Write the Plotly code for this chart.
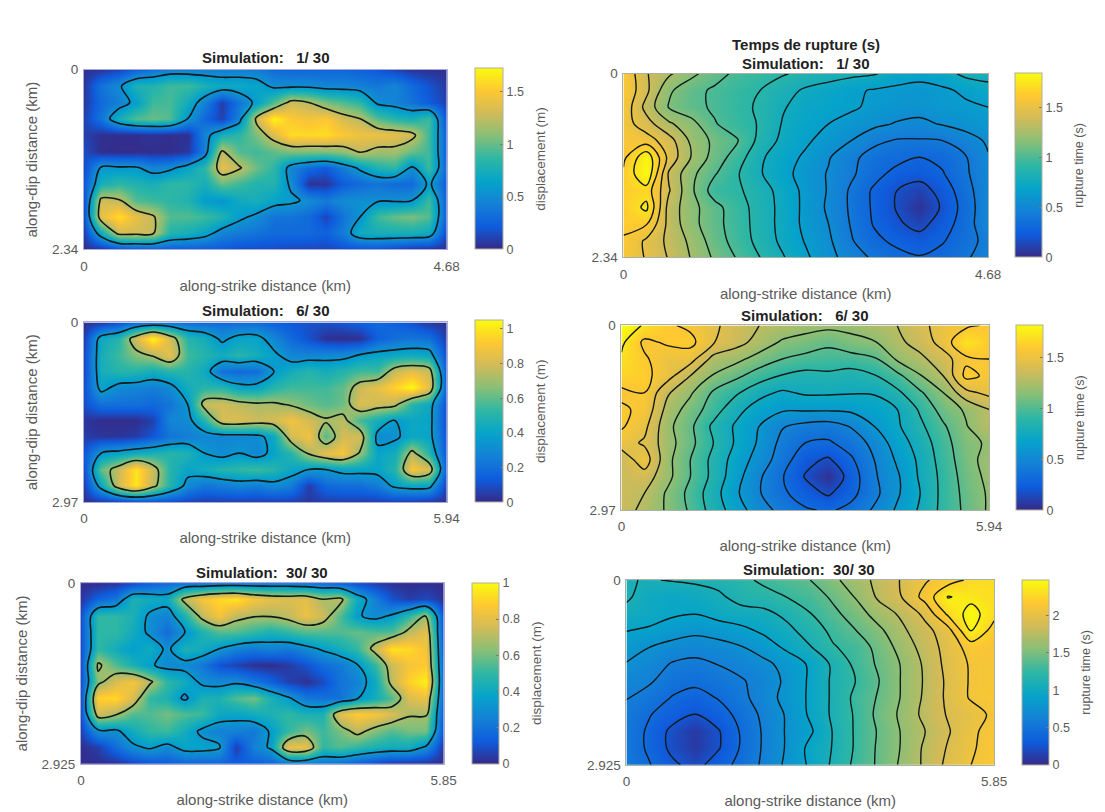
import numpy as np
import plotly.graph_objects as go

# ---------- values ----------
disp_sim1 = [
 [.03,.05,.12,.25,.35,.42,.42,.42,.42,.42,.4,.3,.28,.28,.28,.28,.25,.2,.12,.05,.03,.03],
 [.05,.35,.5,.78,.8,.9,.9,.78,.7,.7,.66,.5,.5,.5,.45,.45,.42,.38,.45,.3,.18,.06],
 [.06,.3,.42,.62,.9,.92,.72,.42,.08,.35,.62,.95,1.3,1.22,1.05,.95,.85,.5,.45,.35,.22,.1],
 [.1,.35,.75,.95,1.0,.95,.55,.28,.1,.45,1.3,1.7,1.5,1.45,1.5,1.32,1.22,.95,.82,.75,.9,.15],
 [.1,.03,.02,.02,.04,.02,.03,.45,.75,.85,1.05,1.35,1.6,1.58,1.6,1.5,1.42,1.42,1.38,1.3,.9,.2],
 [.15,.02,.01,.01,.02,.01,.06,.42,1.25,.95,.9,.98,1.05,1.05,1.05,1.1,1.25,1.15,1.15,1.0,.9,.2],
 [.15,.58,.58,.58,.45,.5,.65,.85,1.38,1.25,1.0,.85,.45,.3,.22,.4,.6,.8,.85,.5,.9,.25],
 [.2,.75,.85,.8,.75,.85,.85,.75,1.0,.9,.8,.8,.5,.04,.05,.22,.3,.35,.3,.3,.6,.2],
 [.15,1.3,1.25,.95,.9,.85,.8,.6,.55,.7,.75,.65,.6,.5,.4,.5,.52,.52,.52,.55,.9,.2],
 [.15,1.4,1.6,1.4,1.25,.95,.95,.9,.8,.6,.5,.35,.35,.3,.12,.35,.55,.9,1.0,1.05,.95,.2],
 [.08,.7,1.3,1.3,1.25,.82,.75,.65,.45,.4,.35,.3,.3,.3,.25,.4,.72,.75,.75,.75,.7,.12],
 [.02,.03,.1,.15,.18,.2,.2,.2,.2,.15,.15,.15,.12,.12,.12,.15,.15,.15,.1,.03,.02,.02],
]
disp_sim6 = [
 [.02,.03,.1,.17,.2,.2,.2,.18,.18,.18,.18,.15,.12,.1,.1,.12,.15,.18,.15,.1,.04,.02],
 [.05,.42,.5,.8,1.05,.8,.5,.45,.32,.4,.4,.28,.18,.1,.02,.01,.02,.15,.2,.22,.2,.05],
 [.08,.45,.55,.65,.72,.85,.55,.5,.45,.5,.45,.38,.28,.28,.3,.3,.36,.4,.42,.44,.42,.08],
 [.08,.45,.5,.5,.45,.5,.5,.42,.2,.18,.2,.35,.45,.5,.45,.5,.55,.55,.78,.85,.78,.1],
 [.1,.4,.3,.28,.25,.3,.45,.5,.5,.4,.4,.5,.55,.55,.55,.6,.78,.85,.95,1.05,.85,.1],
 [.1,.2,.2,.2,.18,.22,.35,.78,.8,.75,.72,.72,.68,.62,.58,.62,.82,.78,.75,.5,.42,.08],
 [.03,.01,.01,.01,.06,.28,.3,.5,.8,.82,.78,.8,.88,.8,.72,.75,.55,.45,.35,.42,.4,.08],
 [.05,.03,.03,.05,.12,.22,.25,.28,.28,.28,.3,.42,.8,.88,.58,.8,.8,.3,.32,.42,.4,.1],
 [.12,.35,.4,.45,.48,.5,.48,.35,.3,.35,.28,.4,.5,.72,.85,.9,.68,.4,.45,.75,.5,.1],
 [.1,.6,.78,1.0,.78,.5,.4,.45,.5,.52,.55,.5,.42,.35,.35,.4,.4,.4,.5,.9,.82,.1],
 [.05,.42,.8,1.0,.75,.5,.3,.22,.25,.28,.25,.3,.25,.05,.18,.2,.2,.25,.38,.42,.4,.05],
 [.02,.02,.03,.06,.08,.08,.06,.05,.05,.05,.05,.05,.05,.04,.05,.05,.05,.05,.05,.04,.02,.02],
]
disp_sim30 = [
 [.01,.01,.03,.08,.14,.18,.2,.2,.22,.22,.22,.22,.22,.2,.18,.15,.1,.05,.02,.01,.01,.01],
 [.03,.15,.22,.45,.42,.4,.72,.85,.92,.95,.85,.8,.78,.8,.68,.72,.42,.25,.1,.05,.08,.02],
 [.1,.5,.5,.45,.3,.25,.45,.72,.85,.72,.68,.68,.72,.82,.75,.55,.35,.28,.35,.5,.68,.08],
 [.1,.5,.5,.42,.3,.18,.32,.45,.55,.55,.5,.45,.5,.55,.55,.55,.58,.55,.55,.72,.8,.08],
 [.1,.5,.42,.35,.42,.3,.45,.42,.33,.25,.22,.25,.22,.28,.35,.42,.5,.72,.95,.92,.85,.1],
 [.1,.7,.55,.45,.35,.28,.28,.22,.1,.06,.02,.01,.04,.1,.18,.22,.32,.5,.75,.85,.88,.12],
 [.1,.62,.78,.85,.7,.5,.42,.3,.28,.3,.22,.15,.06,.02,.08,.2,.25,.4,.72,.9,.98,.12],
 [.1,.9,.92,.78,.5,.45,.3,.45,.45,.55,.6,.45,.35,.22,.2,.2,.32,.42,.55,.78,.82,.12],
 [.1,.75,.68,.55,.55,.6,.55,.52,.4,.38,.42,.45,.5,.45,.45,.8,.88,.85,.78,.68,.68,.1],
 [.06,.3,.3,.42,.5,.52,.42,.3,.25,.25,.22,.35,.5,.6,.52,.6,.72,.62,.55,.6,.6,.08],
 [.01,.05,.18,.3,.35,.28,.38,.38,.35,.05,.25,.35,.82,.82,.5,.55,.5,.45,.42,.42,.3,.02],
 [.01,.01,.02,.06,.1,.12,.15,.15,.15,.14,.14,.15,.18,.2,.2,.18,.12,.06,.02,.01,.01,.01],
]
rupt_sim1 = [
 [1.6,1.38,1.27,1.16,1.06,.98,.94,.9,.86,.83,.8,.78,.72,.7,.72,.8,.82],
 [1.6,1.4,1.15,1.05,.99,.94,.89,.82,.75,.71,.67,.64,.62,.6,.63,.67,.72],
 [1.58,1.33,1.12,1.05,.99,.93,.87,.78,.72,.69,.67,.62,.59,.58,.62,.63,.65],
 [1.55,1.42,1.27,1.17,1.02,.94,.88,.76,.7,.65,.6,.56,.52,.5,.54,.58,.62],
 [1.58,1.55,1.42,1.22,1.1,1.02,.85,.74,.67,.6,.53,.44,.4,.4,.41,.47,.55],
 [1.58,1.82,1.45,1.24,1.08,.95,.79,.7,.63,.54,.44,.36,.33,.29,.32,.4,.52],
 [1.63,1.84,1.35,1.16,1.02,.9,.78,.69,.6,.52,.43,.33,.25,.22,.28,.39,.5],
 [1.63,1.68,1.38,1.15,.95,.91,.83,.72,.62,.52,.39,.27,.17,.11,.22,.36,.5],
 [1.63,1.76,1.32,1.17,1.05,.94,.84,.73,.62,.51,.39,.27,.16,.04,.19,.34,.5],
 [1.63,1.62,1.33,1.17,1.05,.95,.84,.73,.62,.53,.4,.28,.19,.13,.23,.35,.5],
 [1.6,1.47,1.34,1.22,1.07,.96,.85,.74,.64,.55,.42,.32,.26,.22,.28,.36,.45],
 [1.58,1.48,1.36,1.24,1.11,1.0,.89,.78,.67,.57,.47,.39,.33,.3,.33,.39,.48],
]
rupt_sim6 = [
 [1.85,1.7,1.6,1.55,1.47,1.37,1.3,1.26,1.22,1.2,1.2,1.25,1.3,1.4,1.5,1.55,1.6],
 [1.75,1.55,1.6,1.62,1.45,1.35,1.25,1.14,1.1,1.05,1.12,1.15,1.27,1.35,1.5,1.72,1.6],
 [1.7,1.6,1.5,1.5,1.25,1.2,1.1,1.02,.98,.96,.96,1.0,1.18,1.27,1.37,1.55,1.58],
 [1.65,1.62,1.5,1.3,1.15,1.05,.95,.87,.83,.85,.82,.87,.98,1.15,1.3,1.62,1.55],
 [1.55,1.58,1.32,1.18,1.0,.9,.78,.72,.76,.76,.75,.75,.85,1.0,1.16,1.4,1.48],
 [1.6,1.55,1.25,1.1,.95,.78,.68,.62,.62,.62,.63,.68,.74,.9,1.08,1.18,1.3],
 [1.6,1.48,1.2,1.05,.85,.72,.6,.47,.42,.4,.47,.6,.72,.85,1.0,1.15,1.3],
 [1.5,1.42,1.22,1.06,.88,.72,.58,.42,.32,.3,.38,.5,.67,.8,.96,1.12,1.18],
 [1.35,1.52,1.2,1.02,.84,.68,.54,.39,.22,.16,.3,.46,.62,.77,.94,1.1,1.22],
 [1.35,1.38,1.2,1.02,.84,.65,.48,.33,.17,.03,.25,.44,.58,.76,.92,1.08,1.2],
 [1.35,1.3,1.14,.98,.8,.62,.47,.35,.24,.16,.28,.42,.58,.74,.92,1.06,1.18],
 [1.35,1.27,1.14,1.0,.82,.67,.52,.42,.34,.3,.36,.48,.62,.76,.92,1.05,1.18],
]
rupt_sim30 = [
 [1.1,1.08,1.1,1.12,1.14,1.2,1.3,1.36,1.42,1.55,1.67,1.8,1.93,2.06,2.17,2.28,2.3],
 [1.12,1.0,.97,1.0,1.06,1.15,1.18,1.26,1.33,1.45,1.6,1.78,1.92,2.14,2.42,2.36,2.3],
 [1.03,1.0,.95,.93,.99,1.03,1.05,1.13,1.25,1.38,1.5,1.67,1.78,1.96,2.28,2.48,2.3],
 [.93,.9,.84,.8,.83,.88,.96,1.05,1.16,1.3,1.42,1.55,1.72,1.86,2.02,2.43,2.17],
 [.84,.76,.7,.67,.7,.75,.84,.96,1.08,1.24,1.32,1.48,1.65,1.82,1.98,2.15,2.12],
 [.75,.68,.58,.55,.6,.65,.72,.82,.95,1.12,1.3,1.45,1.6,1.78,1.97,2.1,2.12],
 [.67,.62,.5,.47,.52,.58,.66,.8,.95,1.12,1.26,1.42,1.6,1.77,1.95,2.1,2.12],
 [.6,.52,.42,.37,.44,.55,.68,.82,.95,1.12,1.3,1.44,1.6,1.78,1.95,2.1,2.14],
 [.56,.44,.34,.26,.36,.48,.64,.78,.95,1.12,1.28,1.47,1.62,1.8,1.93,2.0,2.12],
 [.54,.4,.22,.1,.25,.45,.62,.78,.9,1.1,1.28,1.44,1.6,1.75,1.9,2.05,2.14],
 [.54,.4,.22,.1,.25,.45,.62,.78,.97,1.1,1.28,1.45,1.6,1.78,1.93,2.06,2.15],
 [.56,.44,.3,.2,.36,.48,.63,.8,.95,1.12,1.3,1.45,1.62,1.78,1.96,2.08,2.15],
]
strike_lengths = [4.68, 5.94, 5.85]
dip_lengths = [2.34, 2.97, 2.925]
sim_labels = ["1/ 30", "6/ 30", "30/ 30"]
disp_zmax = [1.72, 1.05, 1.0]
rupt_zmax = [1.84, 1.82, 2.48]
disp_ticks = [[0, .5, 1, 1.5], [0, .2, .4, .6, .8, 1], [0, .2, .4, .6, .8, 1]]
rupt_ticks = [[0, .5, 1, 1.5], [0, .5, 1, 1.5], [0, .5, 1, 1.5, 2]]
disp_levels = [(.55, 1.22), (.35, .7), (.33, .67)]
rupt_levels = [(.17, 1.73, .12), (.18, 1.72, .14), (.265, 2.41, .165)]

# ---------- layout helpers ----------
W, H = 1105, 812
PARULA = ["#352a87", "#0f5cdd", "#1481d6", "#06a4ca", "#2eb7a4", "#87bf77", "#d1bb59", "#fec832", "#f9fb0e"]
FONT = "Liberation Sans, Arial, sans-serif"
GREY = "#5a5a5a"
# the colorbars push the margins a little; the paper area is smaller than the page
PAD_L, PAPER_W, PAD_T, PAPER_H = 4.0, 1088.0, 6.2, 798.0

def px(x): return (x - PAD_L) / PAPER_W
def py(y): return 1 - (y - PAD_T) / PAPER_H

panels = [
 dict(z=disp_sim1, box=(84, 447, 69, 249), cb=(475, 503, 68, 249), row=0, kind="d", ttl=(266, 57), ylab=True),
 dict(z=disp_sim6, box=(84, 447, 322, 502), cb=(475, 503, 320, 502), row=1, kind="d", ttl=(266, 310), ylab=True),
 dict(z=disp_sim30, box=(81, 444, 583, 764), cb=(472, 499, 583, 764), row=2, kind="d", ttl=(262, 572), ylab=True),
 dict(z=rupt_sim1, box=(624, 989, 73, 257), cb=(1016, 1043, 73, 257), row=0, kind="r", ttl=(807, 63), ylab=False),
 dict(z=rupt_sim6, box=(622, 990, 325, 510), cb=(1017, 1044, 325, 510), row=1, kind="r", ttl=(806, 315), ylab=False),
 dict(z=rupt_sim30, box=(627, 995, 580, 765), cb=(1023, 1050, 580, 765), row=2, kind="r", ttl=(810, 569), ylab=False),
]

fig = go.Figure()
annotations = []
for i, p in enumerate(panels, start=1):
    r = p["row"]
    L, D = strike_lengths[r], dip_lengths[r]
    z = np.array(p["z"], dtype=float)
    xs = np.linspace(0, L, z.shape[1])
    ys = np.linspace(0, D, z.shape[0])
    x0, x1, y0, y1 = p["box"]
    c0, c1, c_top, c_bot = p["cb"]
    axs = "" if i == 1 else str(i)
    is_d = p["kind"] == "d"
    zmax = disp_zmax[r] if is_d else rupt_zmax[r]
    ticks = disp_ticks[r] if is_d else rupt_ticks[r]
    fig.add_trace(go.Heatmap(
        x=xs, y=ys, z=z, zmin=0, zmax=zmax, zsmooth="best", colorscale=PARULA,
        xaxis="x" + axs, yaxis="y" + axs,
        colorbar=dict(
            x=px(c0), xanchor="left", xpad=0, y=py(c_bot), yanchor="bottom", ypad=0,
            len=(c_bot - c_top) / PAPER_H, lenmode="fraction", thickness=c1 - c0, thicknessmode="pixels",
            tickvals=ticks, ticktext=[f"{t:g}\u00a0\u00a0" for t in ticks], ticks="inside", ticklen=3,
            tickcolor="#777", outlinecolor="#b0b0a0", outlinewidth=1,
            tickfont=dict(family=FONT, size=12.5, color=GREY),
            title=dict(text="displacement (m)" if is_d else "rupture time (s)", side="right",
                       font=dict(family=FONT, size=13.5 if is_d else 12.5, color=GREY)),
        ),
    ))
    if is_d:
        lo, hi = disp_levels[r]
        contours = dict(start=lo, end=hi, size=hi - lo, coloring="none")
    else:
        a, b, s = rupt_levels[r]
        contours = dict(start=a, end=b, size=s, coloring="none")
    fig.add_trace(go.Contour(
        x=xs, y=ys, z=z, contours=contours, showscale=False, hoverinfo="skip",
        line=dict(color="#101a1a", width=1.6 if is_d else 1.4, smoothing=1),
        xaxis="x" + axs, yaxis="y" + axs,
    ))
    linec = "#a9a9d8" if is_d else "#a8b0a8"
    fig.layout["xaxis" + axs] = dict(
        domain=[px(x0), px(x1)], range=[0, L], anchor="y" + axs,
        tickvals=[0, L], ticktext=["0", f"{L:g}"], ticks="outside", ticklen=4,
        tickcolor="rgba(0,0,0,0)", tickfont=dict(family=FONT, size=13.5, color=GREY),
        showgrid=False, zeroline=False, showline=True, linecolor=linec, mirror=True,
        title=dict(text="along-strike distance (km)", standoff=7,
                   font=dict(family=FONT, size=15, color=GREY)),
    )
    y_axis = dict(
        domain=[py(y1), py(y0)], range=[D, 0], anchor="x" + axs,
        tickvals=[0, D], ticktext=["0", f"{D:g}"], ticks="outside", ticklen=2,
        tickcolor="rgba(0,0,0,0)", tickfont=dict(family=FONT, size=13.5, color=GREY),
        showgrid=False, zeroline=False, showline=True, linecolor=linec, mirror=True,
    )
    if p["ylab"]:
        y_axis["title"] = dict(text="along-dip distance (km)", standoff=10,
                               font=dict(family=FONT, size=15, color=GREY))
    fig.layout["yaxis" + axs] = y_axis
    tx, ty = p["ttl"]
    annotations.append(dict(
        x=px(tx), y=py(ty), xref="paper", yref="paper", showarrow=False,
        xanchor="center", yanchor="middle",
        text="<b>Simulation:\u00a0" + ("\u00a0\u00a0" if r < 2 else "\u00a0") + sim_labels[r] + "</b>",
        font=dict(family=FONT, size=15, color="#222222"),
    ))

annotations.append(dict(
    x=px(807), y=py(44), xref="paper", yref="paper", showarrow=False,
    xanchor="center", yanchor="middle",
    text="<b>Temps de rupture (s)</b>", font=dict(family=FONT, size=15, color="#222222"),
))
fig.update_layout(
    width=W, height=H, autosize=False, margin=dict(l=0, r=0, t=0, b=0),
    paper_bgcolor="white", plot_bgcolor="white", showlegend=False, annotations=annotations,
)
fig.write_html("out.html", config=dict(displayModeBar=False),
               post_script="document.body.style.margin='0';document.body.style.overflow='hidden';")
